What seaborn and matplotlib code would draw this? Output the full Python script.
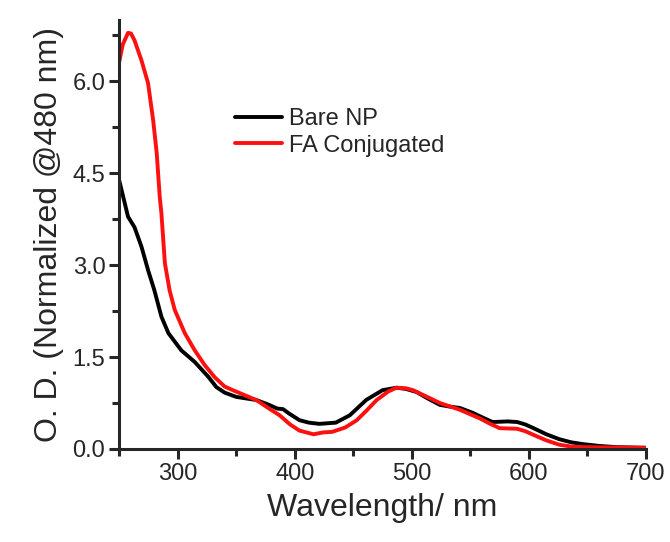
import matplotlib
matplotlib.use("Agg")
import matplotlib.pyplot as plt
import seaborn as sns
import pandas as pd
from matplotlib.ticker import MultipleLocator

bare_wl = [250, 257.5, 263, 269, 274.6, 280, 286, 292, 303, 314.5, 326, 333, 340, 350, 360,
           367, 378, 385, 390, 395, 404, 412, 421, 435, 447, 461, 475, 487, 495, 504, 514,
           524, 533, 541, 552, 562, 569, 582, 590, 597, 604, 615, 626, 636, 646, 660, 675, 700]
bare_od = [4.38, 3.79, 3.62, 3.30, 2.92, 2.59, 2.16, 1.89, 1.61, 1.42, 1.18, 1.01, 0.92, 0.85,
           0.82, 0.80, 0.72, 0.66, 0.65, 0.58, 0.47, 0.43, 0.41, 0.43, 0.55, 0.80, 0.96, 1.00,
           0.98, 0.93, 0.82, 0.72, 0.69, 0.67, 0.59, 0.50, 0.44, 0.45, 0.44, 0.40, 0.34, 0.24,
           0.16, 0.11, 0.08, 0.05, 0.03, 0.02]

fa_wl = [250, 253, 257.5, 260, 263, 269, 274.6, 279, 282, 284.6, 286, 289, 293, 297.4, 306,
         314.5, 323, 331.6, 340, 347, 357, 367, 378, 387, 396, 404, 416, 424, 432, 443, 453,
         462, 470, 480, 487, 495, 501, 512, 524, 541, 558, 567, 575, 590, 597, 604, 615, 626,
         636, 646, 700]
fa_od = [6.32, 6.60, 6.79, 6.78, 6.67, 6.34, 5.97, 5.36, 4.83, 4.11, 3.85, 3.03, 2.59, 2.27,
         1.89, 1.61, 1.37, 1.17, 1.02, 0.96, 0.88, 0.80, 0.66, 0.55, 0.40, 0.30, 0.24, 0.27,
         0.28, 0.35, 0.47, 0.64, 0.80, 0.94, 1.00, 0.99, 0.96, 0.86, 0.75, 0.64, 0.50, 0.41,
         0.34, 0.33, 0.29, 0.23, 0.14, 0.07, 0.04, 0.03, 0.02]

labels = ["Bare NP", "FA Conjugated"]
colors = ["#000000", "#ff1010"]

df = pd.concat([
    pd.DataFrame({"Wavelength": bare_wl, "OD": bare_od, "Sample": labels[0]}),
    pd.DataFrame({"Wavelength": fa_wl, "OD": fa_od, "Sample": labels[1]}),
])

sns.set_style("ticks")
plt.rcParams["font.family"] = ["Liberation Sans", "DejaVu Sans"]

fig = plt.figure(figsize=(6.7, 5.42), dpi=100)
ax = fig.add_axes([0.178, 0.1716, 0.786, 0.7915])

sns.lineplot(data=df, x="Wavelength", y="OD", hue="Sample", palette=colors,
             hue_order=labels, linewidth=2.8, ax=ax, sort=True, estimator=None)

ax.set_xlim(250, 700)
ax.set_ylim(0, 7.0)
ax.xaxis.set_minor_locator(MultipleLocator(50))
ax.yaxis.set_minor_locator(MultipleLocator(0.75))
ax.set_yticks([0, 1.5, 3.0, 4.5, 6.0])
ax.set_yticklabels(["0.0", "1.5", "3.0", "4.5", "6.0"])
ax.set_xticks([300, 400, 500, 600, 700])

for s in ["top", "right"]:
    ax.spines[s].set_visible(False)
for s in ["left", "bottom"]:
    ax.spines[s].set_linewidth(2.2)

ax.tick_params(which="major", direction="out", length=7, width=2.2, labelsize=17, pad=3)
ax.tick_params(which="minor", direction="out", length=5, width=2.2)

ax.set_xlabel("Wavelength/ nm", fontsize=23, labelpad=6)
ax.set_ylabel("O. D. (Normalized @480 nm)", fontsize=23, labelpad=6)

leg = ax.legend(loc="center left", bbox_to_anchor=(0.219, 0.738), frameon=False,
                fontsize=17, handlelength=2.0, handletextpad=0.3, labelspacing=0.2,
                borderpad=0, borderaxespad=0)
for line in leg.get_lines():
    line.set_linewidth(2.8)

fig.savefig("out.png", dpi=100)
